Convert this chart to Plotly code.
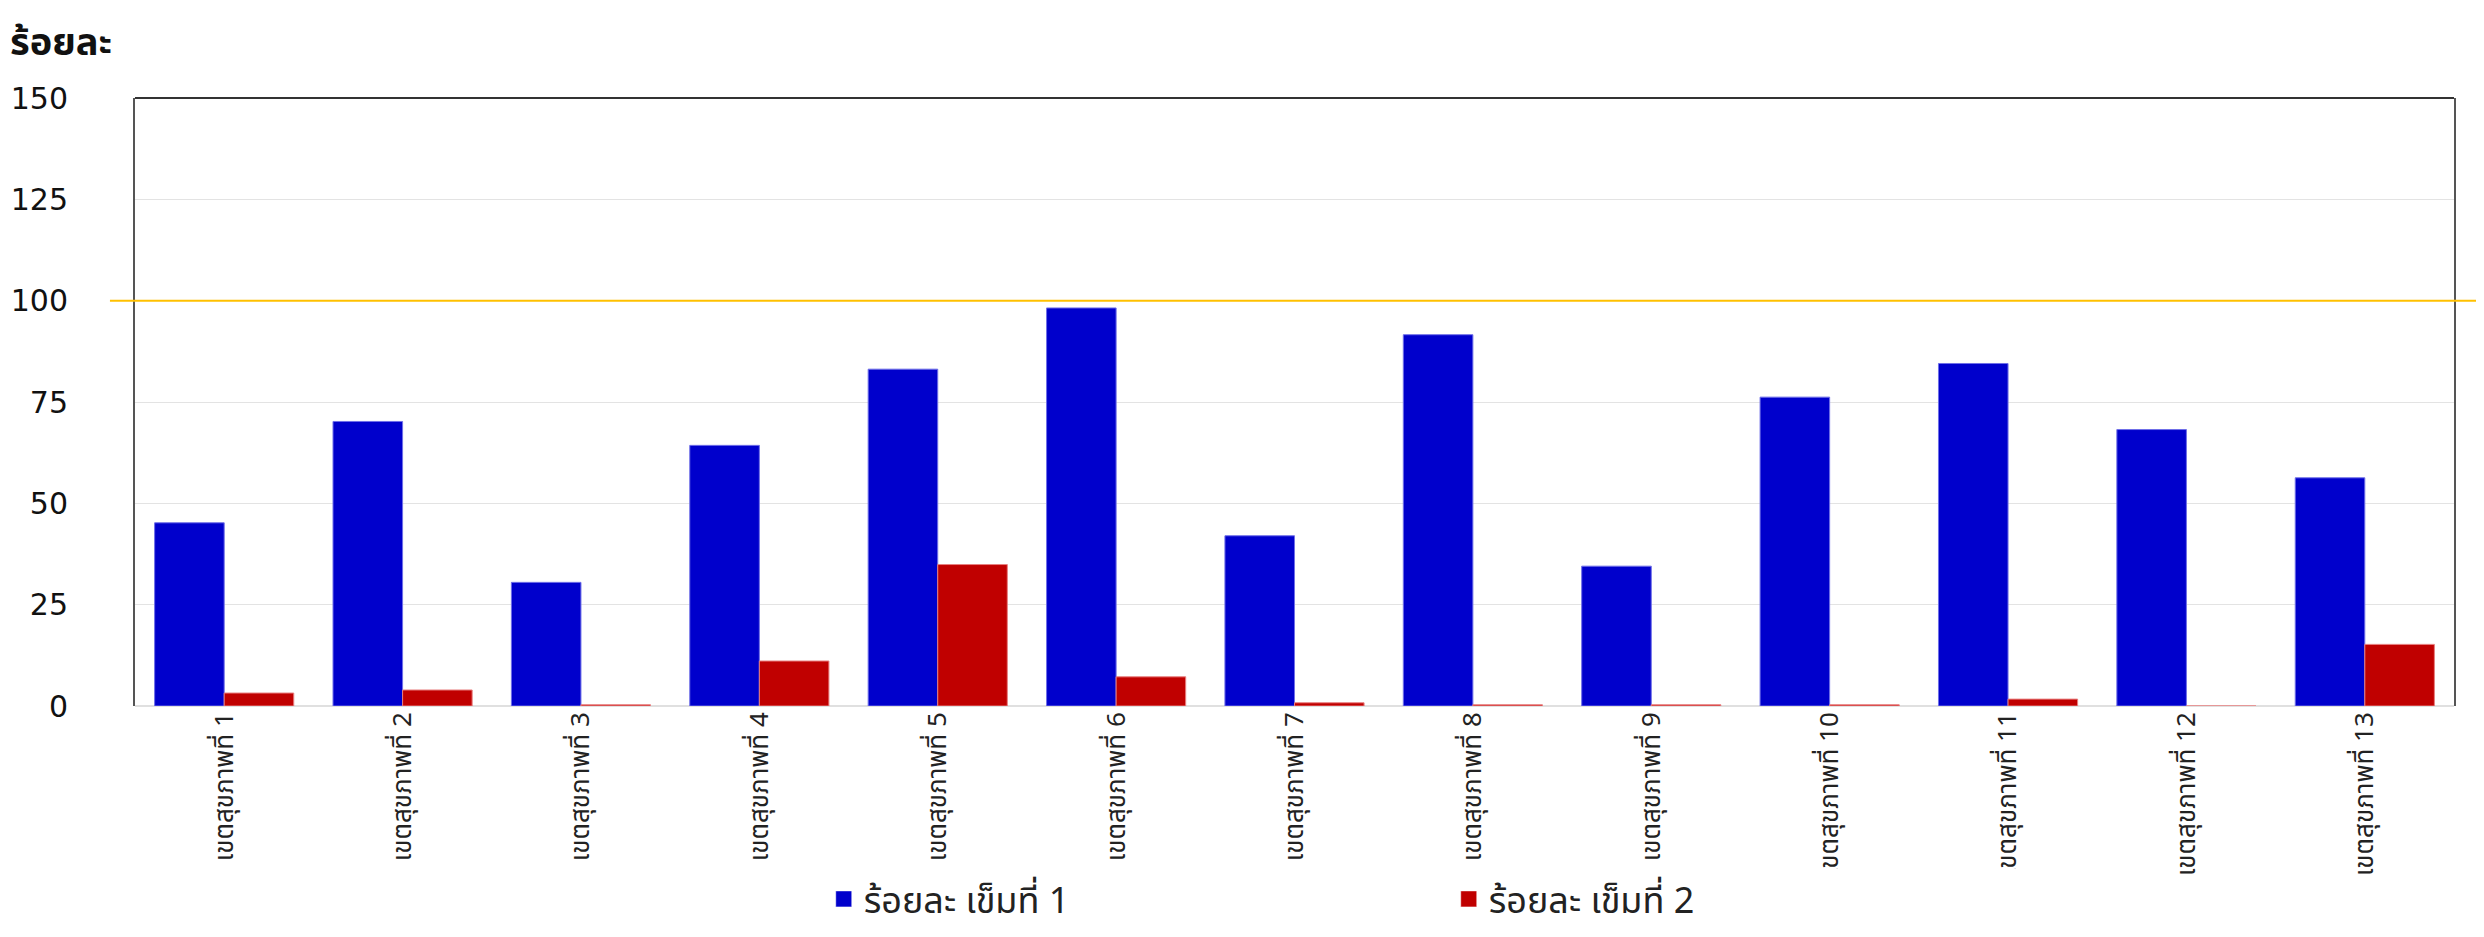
import plotly.graph_objects as go

categories = [f"เขตสุขภาพที่ {i}" for i in range(1, 14)]
dose1 = [45.2, 70.2, 30.5, 64.3, 83.1, 98.2, 42.0, 91.6, 34.5, 76.2, 84.5, 68.2, 56.3]
dose2 = [3.2, 3.95, 0.3, 11.1, 34.9, 7.2, 0.8, 0.3, 0.3, 0.3, 1.7, 0.0, 15.2]
series_names = ["ร้อยละ เข็มที่ 1", "ร้อยละ เข็มที่ 2"]
series_colors = ["#0000CC", "#C00000"]
y_ticks = [0, 25, 50, 75, 100, 125, 150]
target = 100

thai_font = "Noto Sans Thai, Noto Sans, DejaVu Sans"

fig = go.Figure()
fig.add_trace(go.Bar(x=categories, y=dose1, name=series_names[0], showlegend=False,
                     marker=dict(color=series_colors[0], line=dict(color="#6f6fe8", width=1))))
fig.add_trace(go.Bar(x=categories, y=dose2, name=series_names[1], showlegend=False,
                     marker=dict(color=series_colors[1], line=dict(color="#e87f7f", width=1))))
# legend entries with larger square swatches
for name, col in zip(series_names, series_colors):
    fig.add_trace(go.Scatter(x=[None], y=[None], mode="markers", name=name,
                             marker=dict(symbol="square", size=22, color=col,
                                         line=dict(color="rgba(255,255,255,0.5)", width=1))))

fig.update_layout(
    width=2468, height=921,
    margin=dict(l=127, r=22, t=90, b=223, autoexpand=False),
    paper_bgcolor="white", plot_bgcolor="white",
    barmode="group", bargap=0.22, bargroupgap=0,
    showlegend=True,
    legend=dict(orientation="h", x=0.297, xanchor="left", y=-0.3668, yanchor="bottom",
                font=dict(family=thai_font, size=36, color="#222"),
                entrywidth=580, itemsizing="trace", itemwidth=30),
    shapes=[
        dict(type="line", xref="paper", yref="y", x0=-0.0108, x1=1.02, y0=target, y1=target,
             line=dict(color="#FFC000", width=2)),
        dict(type="line", xref="paper", yref="paper", x0=0, x1=1, y0=1, y1=1,
             line=dict(color="#333333", width=2)),
    ],
    annotations=[
        dict(text="<b>ร้อยละ</b>", xref="paper", yref="paper", x=-0.0548, y=1.092,
             xanchor="left", yanchor="middle", showarrow=False,
             font=dict(family="Tahoma, DejaVu Sans, Noto Sans Thai", size=38, color="#111")),
    ],
)
fig.update_yaxes(range=[0, 150], tickvals=y_ticks, showgrid=True, gridcolor="#e3e3e3", gridwidth=1,
                 zeroline=True, zerolinecolor="#e0e0e0", zerolinewidth=2,
                 showline=True, linecolor="#555555", linewidth=2, mirror=True,
                 ticks="", ticklabelstandoff=59, automargin=False,
                 tickfont=dict(family="DejaVu Sans, Verdana", size=30, color="#111"))
fig.update_xaxes(showline=False, showgrid=False, tickangle=-90, ticks="", automargin=False,
                 tickfont=dict(family=thai_font, size=26, color="#222"))

fig.write_html("out.html")
